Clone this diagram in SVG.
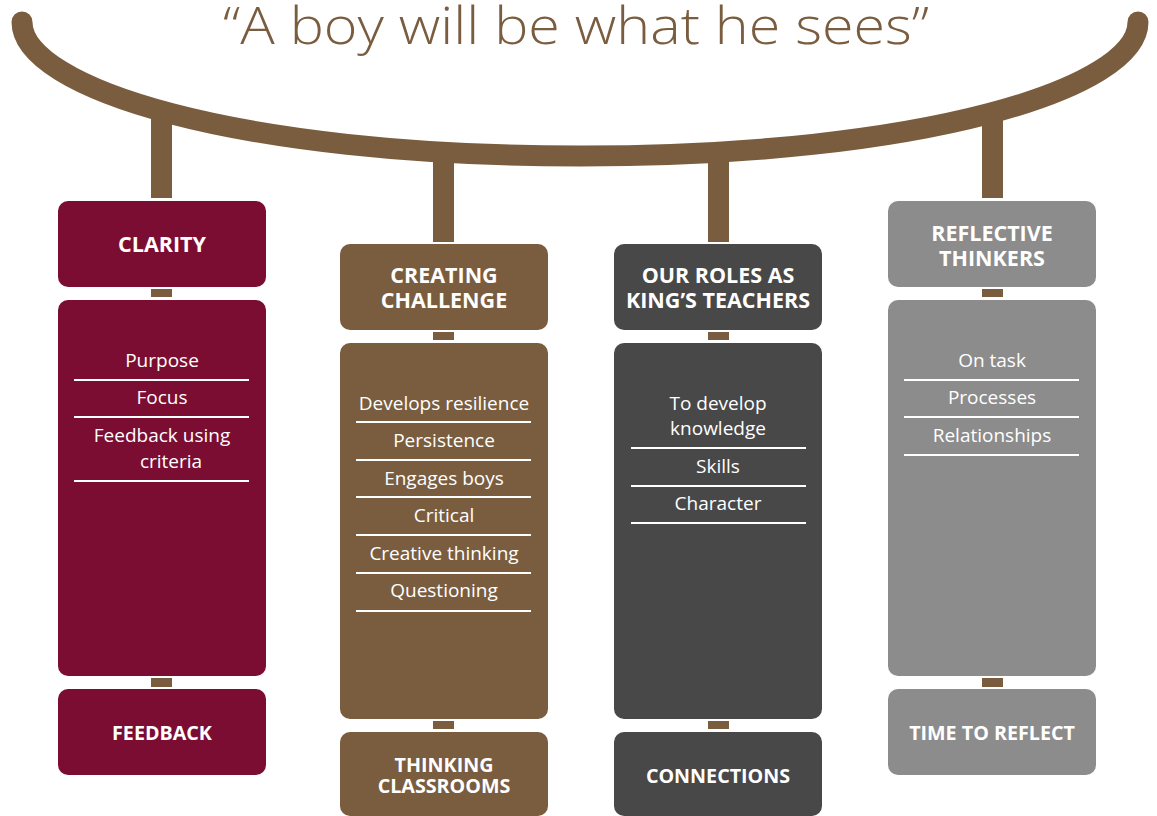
<svg xmlns="http://www.w3.org/2000/svg" width="1157" height="816" viewBox="0 0 1157 816">
<style>
.maroon{fill:#7b0d33}.brown{fill:#7a5d3f}.dark{fill:#484848}.gray{fill:#8c8c8c}
.hd{font-family:"Open Sans","Liberation Sans",sans-serif;font-weight:700;font-size:21.5px;fill:#fff;text-anchor:middle}
.ft{font-family:"Open Sans","Liberation Sans",sans-serif;font-weight:700;font-size:19.7px;fill:#fff;text-anchor:middle}
.it{font-family:"Open Sans","Liberation Sans",sans-serif;font-weight:400;font-size:19px;fill:#fff;text-anchor:middle}
.sep{stroke:#fff;stroke-width:2}
.tab{fill:#7a5d3f}
</style>
<text x="576" y="44" font-family="'Open Sans','Liberation Sans',sans-serif" font-weight="300" font-size="52" fill="#7a5d3f" text-anchor="middle" textLength="706" lengthAdjust="spacingAndGlyphs">“A boy will be what he sees”</text>
<g id="connectors">
<path d="M22,22 C22,88 235,156 580,156 C925,156 1138,88 1138,22" fill="none" stroke="#7a5d3f" stroke-width="21" stroke-linecap="round"/>
<rect class="tab" x="151" y="112" width="21" height="86"/>
<rect class="tab" x="433" y="150" width="21" height="92"/>
<rect class="tab" x="708" y="150" width="21" height="92"/>
<rect class="tab" x="982" y="112" width="21" height="86"/>
<rect class="tab" x="151" y="289" width="21" height="8"/>
<rect class="tab" x="151" y="678" width="21" height="9"/>
<rect class="tab" x="433" y="332" width="21" height="8"/>
<rect class="tab" x="433" y="721" width="21" height="8"/>
<rect class="tab" x="708" y="332" width="21" height="8"/>
<rect class="tab" x="708" y="721" width="21" height="8"/>
<rect class="tab" x="982" y="289" width="21" height="8"/>
<rect class="tab" x="982" y="678" width="21" height="9"/>
</g>
<g id="clarity">
<rect class="maroon" x="58" y="201" width="208" height="86" rx="10"/>
<text class="hd" x="162" y="252">CLARITY</text>
</g>
<g id="clarity-body">
<rect class="maroon" x="58" y="300" width="208" height="376" rx="10"/>
<text class="it" x="162" y="366.5">Purpose</text>
<line class="sep" x1="74" y1="380" x2="249" y2="380"/>
<text class="it" x="162" y="404">Focus</text>
<line class="sep" x1="74" y1="417" x2="249" y2="417"/>
<text class="it"><tspan x="162" y="441.5">Feedback using</tspan><tspan x="171" y="468">criteria</tspan></text>
<line class="sep" x1="74" y1="481" x2="249" y2="481"/>
</g>
<g id="feedback">
<rect class="maroon" x="58" y="689" width="208" height="86" rx="10"/>
<text class="ft" x="162" y="740">FEEDBACK</text>
</g>
<g id="creating-challenge">
<rect class="brown" x="340" y="244" width="208" height="86" rx="10"/>
<text class="hd"><tspan x="444" y="283">CREATING</tspan><tspan x="444" y="308">CHALLENGE</tspan></text>
</g>
<g id="challenge-body">
<rect class="brown" x="340" y="343" width="208" height="376" rx="10"/>
<text class="it" x="444" y="409.5">Develops resilience</text>
<line class="sep" x1="356" y1="422" x2="531" y2="422"/>
<text class="it" x="444" y="447">Persistence</text>
<line class="sep" x1="356" y1="460" x2="531" y2="460"/>
<text class="it" x="444" y="484.5">Engages boys</text>
<line class="sep" x1="356" y1="497" x2="531" y2="497"/>
<text class="it" x="444" y="522">Critical</text>
<line class="sep" x1="356" y1="535" x2="531" y2="535"/>
<text class="it" x="444" y="559.5">Creative thinking</text>
<line class="sep" x1="356" y1="573" x2="531" y2="573"/>
<text class="it" x="444" y="597">Questioning</text>
<line class="sep" x1="356" y1="611" x2="531" y2="611"/>
</g>
<g id="thinking-classrooms">
<rect class="brown" x="340" y="732" width="208" height="84" rx="10"/>
<text class="ft"><tspan x="444" y="772">THINKING</tspan><tspan x="444" y="793">CLASSROOMS</tspan></text>
</g>
<g id="our-roles">
<rect class="dark" x="614" y="244" width="208" height="86" rx="10"/>
<text class="hd"><tspan x="718" y="283">OUR ROLES AS</tspan><tspan x="718" y="308">KING’S TEACHERS</tspan></text>
</g>
<g id="roles-body">
<rect class="dark" x="614" y="343" width="208" height="376" rx="10"/>
<text class="it"><tspan x="718" y="409.5">To develop</tspan><tspan x="718" y="434.5">knowledge</tspan></text>
<line class="sep" x1="631" y1="448" x2="806" y2="448"/>
<text class="it" x="718" y="473">Skills</text>
<line class="sep" x1="631" y1="486" x2="806" y2="486"/>
<text class="it" x="718" y="510">Character</text>
<line class="sep" x1="631" y1="523" x2="806" y2="523"/>
</g>
<g id="connections">
<rect class="dark" x="614" y="732" width="208" height="84" rx="10"/>
<text class="ft" x="718" y="783">CONNECTIONS</text>
</g>
<g id="reflective-thinkers">
<rect class="gray" x="888" y="201" width="208" height="86" rx="10"/>
<text class="hd"><tspan x="992" y="241">REFLECTIVE</tspan><tspan x="992" y="266">THINKERS</tspan></text>
</g>
<g id="reflective-body">
<rect class="gray" x="888" y="300" width="208" height="376" rx="10"/>
<text class="it" x="992" y="366.5">On task</text>
<line class="sep" x1="904" y1="380" x2="1079" y2="380"/>
<text class="it" x="992" y="404">Processes</text>
<line class="sep" x1="904" y1="417" x2="1079" y2="417"/>
<text class="it" x="992" y="441.5">Relationships</text>
<line class="sep" x1="904" y1="455" x2="1079" y2="455"/>
</g>
<g id="time-to-reflect">
<rect class="gray" x="888" y="689" width="208" height="86" rx="10"/>
<text class="ft" x="992" y="740">TIME TO REFLECT</text>
</g>
</svg>
